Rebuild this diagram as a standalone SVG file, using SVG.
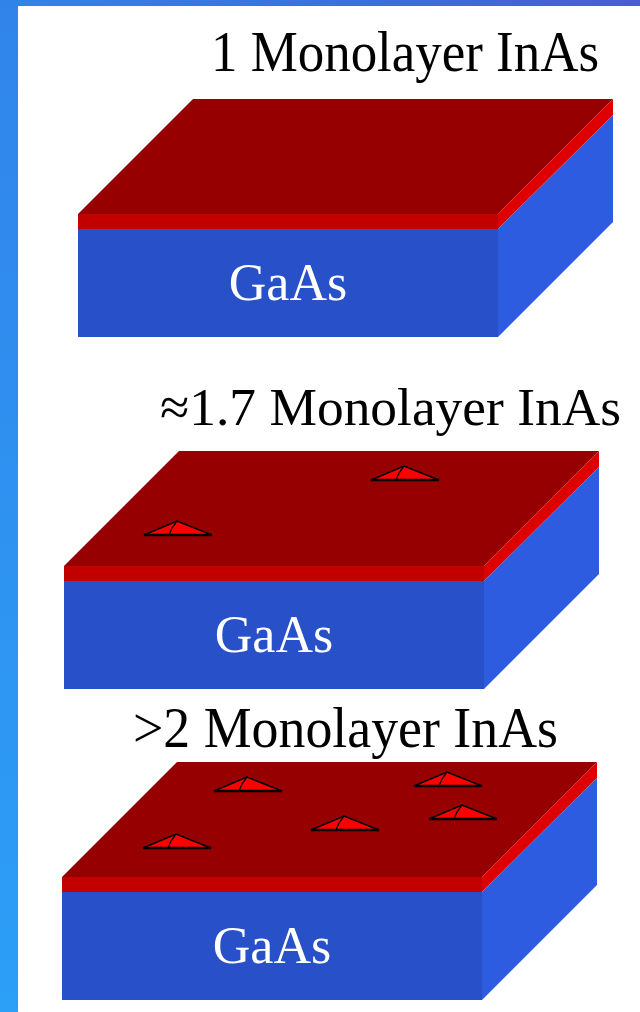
<svg xmlns="http://www.w3.org/2000/svg" width="640" height="1012" viewBox="0 0 640 1012">
  <defs>
    <linearGradient id="edgeTop" x1="0" y1="0" x2="1" y2="0">
      <stop offset="0" stop-color="#2f84ea"/>
      <stop offset="1" stop-color="#4a5cd6"/>
    </linearGradient>
    <linearGradient id="edgeLeft" x1="0" y1="0" x2="0" y2="1">
      <stop offset="0" stop-color="#3184ea"/>
      <stop offset="1" stop-color="#2c9ff7"/>
    </linearGradient>
    <style>
      .top { fill: #960000; }
      .frontRed { fill: #c20000; }
      .sideRed { fill: #de0000; }
      .frontBlue { fill: #2850c8; }
      .sideBlue { fill: #2d5ce0; }
      .caption { font-family: "Liberation Serif", "Times New Roman", serif; font-size: 56px; fill: #000; }
      .caption.long { font-size: 53px; }
      .substrate { font-family: "Liberation Serif", "Times New Roman", serif; font-size: 52px; fill: #fff; text-anchor: middle; }
      .island { fill: #ff0000; stroke: #000; stroke-width: 1.6; stroke-linejoin: miter; }
      .base { fill: none; stroke: #000; stroke-width: 2.4; }
      .ridge { fill: none; stroke: #000; stroke-width: 1.3; }
    </style>
    <!-- one slab: origin at the front top-left corner -->
    <g id="slab">
      <polygon class="top" points="0,0 115,-115 535,-115 420,0"/>
      <rect class="frontRed" x="0" y="0" width="420" height="15"/>
      <rect class="frontBlue" x="0" y="15" width="420" height="108"/>
      <polygon class="sideRed" points="420,0 535,-115 535,-99 420,15"/>
      <polygon class="sideBlue" points="420,15 535,-99 535,8 420,123"/>
    </g>
    <!-- one island: origin at the left end of its base -->
    <g id="island">
      <polygon class="island" points="0,0 33,-14 68,0"/>
      <line class="base" x1="0" y1="0" x2="68" y2="0"/>
      <polyline class="ridge" points="33,-14 28,-7 25,0"/>
    </g>
  </defs>

  <!-- frame -->
  <rect x="0" y="0" width="640" height="1012" fill="url(#edgeLeft)"/>
  <rect x="0" y="0" width="640" height="6" fill="url(#edgeTop)"/>
  <rect x="18" y="6" width="622" height="1006" fill="#ffffff"/>

  <!-- 1 monolayer -->
  <g id="stage1">
    <text class="caption" x="211" y="71" textLength="388" lengthAdjust="spacingAndGlyphs">1 Monolayer InAs</text>
    <use href="#slab" x="78" y="214"/>
    <text class="substrate" x="288" y="300">GaAs</text>
  </g>

  <!-- about 1.7 monolayers: first islands -->
  <g id="stage2">
    <text class="caption long" x="160" y="425" textLength="461" lengthAdjust="spacingAndGlyphs">≈1.7 Monolayer InAs</text>
    <use href="#slab" x="64" y="566"/>
    <use href="#island" x="144" y="535"/>
    <use href="#island" x="371" y="480"/>
    <text class="substrate" x="274" y="652">GaAs</text>
  </g>

  <!-- more than 2 monolayers: many islands -->
  <g id="stage3">
    <text class="caption" x="133" y="747" textLength="425" lengthAdjust="spacingAndGlyphs">&gt;2 Monolayer InAs</text>
    <use href="#slab" x="62" y="877"/>
    <use href="#island" x="214" y="791"/>
    <use href="#island" x="414" y="786"/>
    <use href="#island" x="311" y="830"/>
    <use href="#island" x="429" y="819"/>
    <use href="#island" x="143" y="848"/>
    <text class="substrate" x="272" y="963">GaAs</text>
  </g>

  <g id="connectors"/>
</svg>
